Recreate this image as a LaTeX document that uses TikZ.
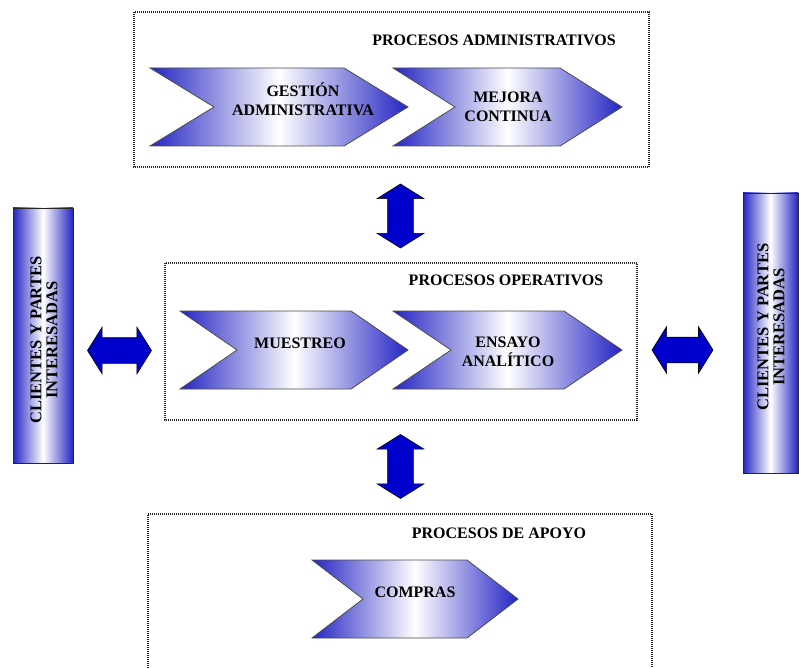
\documentclass[tikz,border=0pt]{standalone}
\usepackage{fontspec}
\setmainfont{Liberation Serif}
\usepackage{xcolor}
\usetikzlibrary{shapes.arrows}

\definecolor{chevblue}{RGB}{36,36,196}
\definecolor{arrowblue}{RGB}{0,0,205}

% chevron: left x, top y, width, height, point depth
\newcommand{\chevron}[5]{%
  \path[chev] (#1,#2) -- ({#1+#3-#5},#2) -- ({#1+#3},{#2+#4/2})
    -- ({#1+#3-#5},{#2+#4}) -- (#1,{#2+#4}) -- ({#1+#5},{#2+#4/2}) -- cycle;}
\newcommand{\shaft}{\rule{0pt}{25pt}}

\begin{document}
\begin{tikzpicture}[x=1pt, y=-1pt,
    every node/.style = {font=\bfseries\fontsize{16}{19}\selectfont, align=center},
    chev/.style = {draw=gray!60!black, line width=0.8pt,
      left color=chevblue, right color=chevblue, middle color=white},
    procbox/.style = {draw=gray!30!black, line width=1.1pt,
      dash pattern=on 1pt off 1pt},
    sidebar/.style = {draw=gray!30!black, line width=0.8pt,
      left color=chevblue, right color=chevblue, middle color=white},
    dblarrow/.style = {double arrow, draw=black, fill=arrowblue,
      line width=0.6pt, inner sep=0pt, minimum height=64pt,
      double arrow head extend=10.5pt, double arrow tip angle=116}]
    \useasboundingbox (0,0) rectangle (799,668);

    % process groups
    \draw[procbox] (134,12) rectangle (649,167);
    \draw[procbox] (165,263) rectangle (637,420);
    \draw[procbox] (148,668) -- (148,514) -- (652,514) -- (652,668);

    \node (tadm) at (494,40) {PROCESOS ADMINISTRATIVOS};
    \node (tope) at (506,280) {PROCESOS OPERATIVOS};
    \node (tapo) at (499,533) {PROCESOS DE APOYO};

    % chevrons
    \chevron{150}{68}{258}{78}{64}
    \chevron{393}{68}{229}{78}{62}
    \chevron{180}{311}{228}{78}{57}
    \chevron{393}{311}{229}{78}{58}
    \chevron{312}{560}{206}{78}{51}

    \node (gest) at (303,99) {GESTIÓN\\ADMINISTRATIVA};
    \node (mejo) at (508,107) {MEJORA\\CONTINUA};
    \node (mues) at (300,343) {MUESTREO};
    \node (ensa) at (508,352) {ENSAYO\\ANALÍTICO};
    \node (comp) at (415,592) {COMPRAS};

    % clients
    \path[sidebar] (13,208) rectangle (73,463);
    \path[sidebar] (743,193) rectangle (798,473);
    \node[rotate=90, font=\bfseries\fontsize{16.5}{16}\selectfont] (clil) at (44,340)
      {CLIENTES Y PARTES\\INTERESADAS};
    \node[rotate=90, font=\bfseries\fontsize{16.5}{16}\selectfont] (clir) at (771,327)
      {CLIENTES Y PARTES\\INTERESADAS};

    % flows
    \node[dblarrow] (al) at (119.5,350.5) {\shaft};
    \node[dblarrow, minimum height=61pt] (ar) at (682.5,350) {\shaft};
    \node[dblarrow, rotate=90] (au) at (400.5,216) {\shaft};
    \node[dblarrow, rotate=90] (ad) at (400.5,466.5) {\shaft};
  \end{tikzpicture}
\end{document}
